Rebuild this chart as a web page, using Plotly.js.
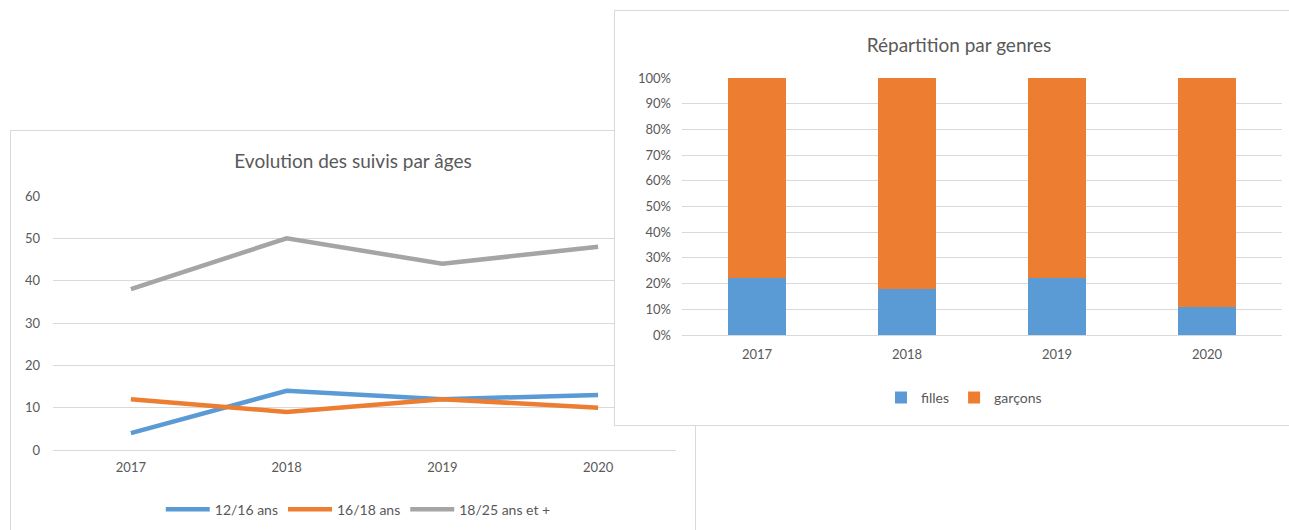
<!DOCTYPE html>
<html>
<head>
<meta charset="utf-8">
<script src="https://cdn.plot.ly/plotly-3.0.1.min.js"></script>
<style>
  html, body { margin:0; padding:0; width:1289px; height:530px; overflow:hidden; background:#fff; }
  #ages { position:absolute; left:10px; top:130px; width:686px; height:410px; border:1px solid #D9D9D9; box-sizing:border-box; background:#fff; z-index:1; }
  #genres { position:absolute; left:614px; top:10px; width:690px; height:416px; border:1px solid #D9D9D9; box-sizing:border-box; background:#fff; z-index:2; }
</style>
</head>
<body>
<div id="ages"></div>
<div id="genres"></div>
<script>
// ---- Data ----
const years = ["2017", "2018", "2019", "2020"];
const ageSeriesNames = ["12/16 ans", "16/18 ans", "18/25 ans et +"];
const age1216 = [4, 14, 12, 13];
const age1618 = [12, 9, 12, 10];
const age1825 = [38, 50, 44, 48];
const ageColors = ["#5B9BD5", "#ED7D31", "#A5A5A5"];

const genreNames = ["filles", "garçons"];
const filles = [22, 18, 22, 11];
const garcons = [78, 82, 78, 89];
const genreColors = ["#5B9BD5", "#ED7D31"];

const yTicksAges = [0, 10, 20, 30, 40, 50, 60];
const yTicksPct = [0, 10, 20, 30, 40, 50, 60, 70, 80, 90, 100];
const yTicksPctLabels = ["0%", "10%", "20%", "30%", "40%", "50%", "60%", "70%", "80%", "90%", "100%"];

const FONT = "Lato, 'Open Sans', sans-serif";
const TXT = "#595959";
const GRID = "#D9D9D9";

// ---- Line chart ----
const ageData = [age1216, age1618, age1825];
const lineTraces = ageData.map((vals, i) => ({
  type: "scatter", mode: "lines", x: years, y: vals, name: ageSeriesNames[i],
  line: { color: ageColors[i], width: 4.5 }, hoverinfo: "skip"
}));

Plotly.newPlot("ages", lineTraces, {
  width: 684, height: 408,
  margin: { l: 42, r: 19, t: 65, b: 89 },
  paper_bgcolor: "rgba(0,0,0,0)", plot_bgcolor: "rgba(0,0,0,0)",
  font: { family: FONT, color: TXT, size: 13 },
  title: { text: "Evolution des suivis par âges", x: 0.5, xref: "container", y: 0.925, yref: "container", yanchor: "middle",
           font: { family: FONT, size: 19, color: TXT } },
  xaxis: { type: "category", range: [-0.5, 3.5], showgrid: false, zeroline: false, showline: false, ticks: "",
           tickfont: { size: 13, color: TXT }, ticklabelstandoff: 8, fixedrange: true },
  yaxis: { range: [0, 60], tickvals: yTicksAges, showgrid: true, gridcolor: GRID, gridwidth: 1,
           zeroline: true, zerolinecolor: GRID, zerolinewidth: 1, showline: false, ticks: "",
           tickfont: { size: 13, color: TXT }, ticklabelstandoff: 12, fixedrange: true },
  showlegend: true,
  legend: { orientation: "h", x: 0.49, xanchor: "center", y: -0.235, yanchor: "middle",
            font: { size: 14, color: TXT }, itemwidth: 44, bgcolor: "rgba(0,0,0,0)" }
}, { staticPlot: true });

// ---- Stacked 100% bar chart ----
const barTraces = [filles, garcons].map((vals, i) => ({
  type: "bar", x: years, y: vals, name: genreNames[i],
  marker: { color: genreColors[i] }, hoverinfo: "skip"
}));

Plotly.newPlot("genres", barTraces, {
  width: 688, height: 414,
  margin: { l: 67, r: 21, t: 67, b: 89 },
  paper_bgcolor: "#ffffff", plot_bgcolor: "#ffffff",
  font: { family: FONT, color: TXT, size: 13 },
  barmode: "stack", bargap: 0.61,
  title: { text: "Répartition par genres", x: 0.5, xref: "container", y: 0.918, yref: "container", yanchor: "middle",
           font: { family: FONT, size: 19, color: TXT } },
  xaxis: { type: "category", range: [-0.5, 3.5], showgrid: false, zeroline: false, showline: false, ticks: "",
           tickfont: { size: 13, color: TXT }, ticklabelstandoff: 10, fixedrange: true },
  yaxis: { range: [0, 100], tickmode: "array", tickvals: yTicksPct, ticktext: yTicksPctLabels, showgrid: true, gridcolor: GRID, gridwidth: 1,
           zeroline: true, zerolinecolor: GRID, zerolinewidth: 1, showline: false, ticks: "",
           tickfont: { size: 13, color: TXT }, ticklabelstandoff: 10, fixedrange: true },
  showlegend: true,
  legend: { orientation: "h", x: 0.47, xanchor: "center", y: -0.24, yanchor: "middle",
            font: { size: 14, color: TXT }, traceorder: "normal", itemwidth: 30, bgcolor: "rgba(0,0,0,0)" }
}, { staticPlot: true });
</script>
</body>
</html>
